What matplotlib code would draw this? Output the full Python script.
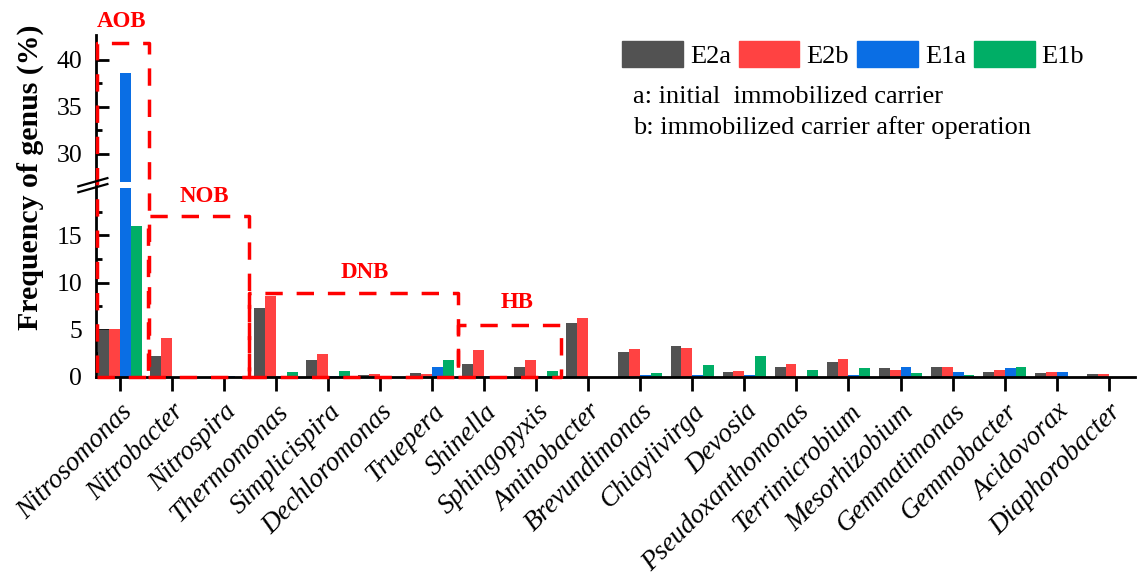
import numpy as np
import matplotlib
matplotlib.use("Agg")
import matplotlib.pyplot as plt
from matplotlib.patches import Patch

plt.rcParams['font.family'] = ['Liberation Serif', 'DejaVu Serif']

genera = ['Nitrosomonas', 'Nitrobacter', 'Nitrospira', 'Thermomonas', 'Simplicispira',
          'Dechloromonas', 'Truepera', 'Shinella', 'Sphingopyxis', 'Aminobacter',
          'Brevundimonas', 'Chiayiivirga', 'Devosia', 'Pseudoxanthomonas', 'Terrimicrobium',
          'Mesorhizobium', 'Gemmatimonas', 'Gemmobacter', 'Acidovorax', 'Diaphorobacter']

e2a = [5.0, 2.2, 0.0, 7.3, 1.8, 0.2, 0.4, 1.4, 1.0, 5.7,
       2.6, 3.3, 0.5, 1.0, 1.6, 0.9, 1.0, 0.5, 0.4, 0.3]
e2b = [5.1, 4.1, 0.0, 8.6, 2.4, 0.3, 0.3, 2.9, 1.8, 6.2,
       3.0, 3.05, 0.6, 1.4, 1.85, 0.7, 1.0, 0.7, 0.5, 0.3]
e1a = [38.6, 0.0, 0.1, 0.1, 0.1, 0.0, 1.1, 0.1, 0.1, 0.0,
       0.25, 0.2, 0.2, 0.0, 0.2, 1.1, 0.5, 0.9, 0.5, 0.0]
e1b = [16.0, 0.0, 0.0, 0.5, 0.6, 0.0, 1.8, 0.0, 0.6, 0.0,
       0.4, 1.3, 2.2, 0.7, 0.9, 0.4, 0.2, 1.1, 0.0, 0.0]

series = [('E2a', e2a, '#525252'), ('E2b', e2b, '#ff4242'),
          ('E1a', e1a, '#0a6ee4'), ('E1b', e1b, '#00ae66')]

# functional groups: name, box x-range, box height, label position
groups = [('AOB', -0.44, 0.56, 41.8, 0.04, 44.0),
          ('NOB', 0.54, 2.48, 17.1, 1.63, 19.1),
          ('DNB', 2.48, 6.5, 8.9, 4.70, 11.1),
          ('HB', 6.5, 8.48, 5.5, 7.64, 7.9)]

# broken y axis: squeeze 20..27 into a thin band
LO, HI, EPS = 20.0, 27.0, 0.09
YTOP = 42.6


def fwd(y):
    y = np.asarray(y, float)
    return np.where(y <= LO, y,
                    np.where(y < HI, LO + (y - LO) * EPS, LO + (HI - LO) * EPS + (y - HI)))


def inv(t):
    t = np.asarray(t, float)
    g = LO + (HI - LO) * EPS
    return np.where(t <= LO, t,
                    np.where(t < g, LO + (t - LO) / EPS, HI + (t - g)))


fig, ax = plt.subplots(figsize=(11.37, 5.79), dpi=100)
fig.subplots_adjust(left=0.0844, right=0.998, bottom=0.349, top=0.9396)
ax.set_yscale('function', functions=(fwd, inv))

x = np.arange(len(genera))
w = 0.21
for k, (name, vals, col) in enumerate(series):
    ax.bar(x + (k - 1.5) * w, vals, width=w, color=col, edgecolor='none', zorder=2, label=name)

# gap in the tall bar at the break
ax.axhspan(LO, HI, xmin=0.004, xmax=1, color='white', zorder=2.2, lw=0)

for name, x0, x1, top, tx, ty in groups:
    ax.plot([x0, x1, x1, x0, x0], [0, 0, top, top, 0], color='red', lw=2.5,
            ls=(0, (5, 4)), zorder=3, clip_on=False)
    ax.text(tx, ty, name, color='red', fontsize=16.5, fontweight='bold',
            ha='center', va='center', clip_on=False)

ax.set_xlim(-0.46, 19.5)
ax.set_ylim(0, YTOP)
ax.set_yticks([0, 5, 10, 15, 30, 35, 40])
ax.set_yticks([2.5, 7.5, 12.5, 17.5, 32.5, 37.5], minor=True)
ax.set_yticklabels(['0', '5', '10', '15', '30', '35', '40'], fontsize=18.5)
ax.tick_params(axis='y', which='major', direction='in', length=9, width=2, pad=10)
ax.tick_params(axis='y', which='minor', direction='in', length=4.5, width=2)
ax.set_xticks(x)
ax.set_xticklabels(genera, rotation=45, ha='right', rotation_mode='anchor',
                   fontstyle='italic', fontsize=19.5)
ax.tick_params(axis='x', direction='out', length=10, width=2, pad=6)

for s in ('top', 'right'):
    ax.spines[s].set_visible(False)
for s in ('left', 'bottom'):
    ax.spines[s].set_linewidth(2)

# break marks on the left spine
c_hi = float(fwd(HI) / fwd(YTOP))
c_lo = float(fwd(LO) / fwd(YTOP))
for c in (c_hi, c_lo):
    ax.plot([-0.017, 0.011], [c - 0.012, c + 0.012], color='black', lw=1.6,
            transform=ax.transAxes, clip_on=False, zorder=4)

fig.text(30 / 1137, 1 - 177 / 579, 'Frequency of genus (%)', rotation=90,
         ha='center', va='center', fontsize=21.5, fontweight='bold')

handles = [Patch(color=col, label=name) for name, _, col in series]
fig.legend(handles=handles, ncol=4, loc='center left', frameon=False,
           bbox_to_anchor=(622 / 1137, 1 - 54.5 / 579), fontsize=19,
           handlelength=2.3, handleheight=1.17, handletextpad=0.27,
           columnspacing=0.3, borderpad=0, borderaxespad=0)
fig.text(633 / 1137, 1 - 97 / 579, 'a: initial  immobilized carrier',
         ha='left', va='center', fontsize=19)
fig.text(633 / 1137, 1 - 128 / 579, 'b: immobilized carrier after operation',
         ha='left', va='center', fontsize=19)

fig.savefig('out.png', dpi=100)
